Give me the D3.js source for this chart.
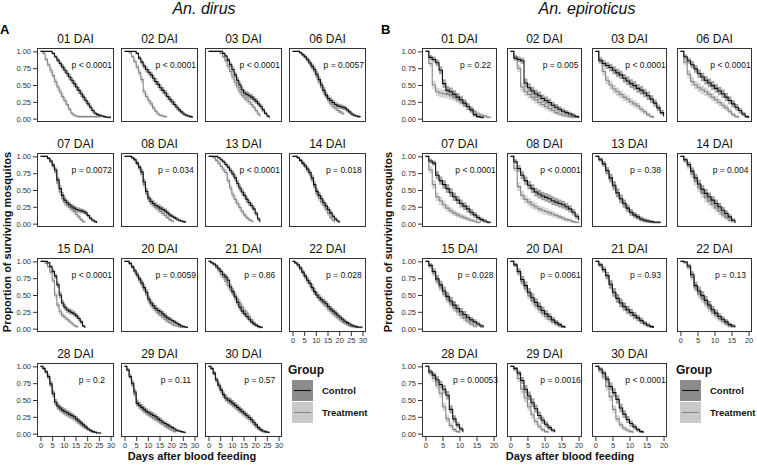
<!DOCTYPE html>
<html><head><meta charset="utf-8">
<script src="https://cdn.jsdelivr.net/npm/d3@7"></script>
<style>body{margin:0;background:#fff}svg{display:block;font-family:"Liberation Sans",Arial,sans-serif}</style>
</head><body><svg id="c" width="757" height="465"></svg>
<script>
// ---------- DATA ----------
const groups = ["Control", "Treatment"];
const yTicks = [0, 0.25, 0.5, 0.75, 1];
const xTicksDirus = [0, 5, 10, 15, 20, 25, 30];
const xTicksEpi = [0, 5, 10, 15, 20];

const dirusPanels = ["01 DAI","02 DAI","03 DAI","06 DAI","07 DAI","08 DAI","13 DAI","14 DAI","15 DAI","20 DAI","21 DAI","22 DAI","28 DAI","29 DAI","30 DAI"];
const dirusPvals = ["p < 0.0001","p < 0.0001","p < 0.0001","p = 0.0057","p = 0.0072","p = 0.034","p < 0.0001","p = 0.018","p < 0.0001","p = 0.0059","p = 0.86","p = 0.028","p = 0.2","p = 0.11","p = 0.57"];
// survival proportion at each day (index = day)
const dirusControl = [
 [1,1,1,1,1,0.97,0.92,0.87,0.82,0.77,0.72,0.67,0.62,0.57,0.52,0.47,0.42,0.37,0.32,0.27,0.22,0.17,0.12,0.08,0.06,0.05,0.04,0.03,0.02,0.02,0.01],
 [1,1,1,1,1,0.97,0.90,0.84,0.78,0.73,0.69,0.65,0.60,0.55,0.51,0.46,0.42,0.38,0.33,0.29,0.25,0.21,0.17,0.13,0.10,0.07,0.05,0.04,0.03,0.01],
 [1,1,1,1,1,1,0.97,0.93,0.87,0.80,0.73,0.65,0.57,0.50,0.43,0.38,0.36,0.34,0.32,0.29,0.26,0.22,0.18,0.13,0.08,0.04,0.01],
 [1,1,1,0.98,0.95,0.92,0.88,0.83,0.78,0.73,0.66,0.58,0.50,0.42,0.35,0.30,0.27,0.24,0.21,0.19,0.18,0.17,0.16,0.13,0.10,0.07,0.05,0.04,0.03,0.02],
 [1,1,1,0.97,0.93,0.87,0.80,0.65,0.52,0.42,0.35,0.31,0.28,0.25,0.23,0.21,0.20,0.19,0.18,0.16,0.12,0.08,0.05,0.03,0.01],
 [1,1,1,0.98,0.95,0.90,0.84,0.77,0.62,0.48,0.38,0.33,0.30,0.27,0.25,0.23,0.21,0.19,0.16,0.13,0.11,0.09,0.07,0.05,0.04,0.03,0.01],
 [1,1,1,1,0.98,0.95,0.92,0.88,0.84,0.79,0.74,0.68,0.60,0.53,0.47,0.42,0.36,0.31,0.27,0.22,0.15,0.07,0.02],
 [1,1,0.98,0.94,0.90,0.86,0.81,0.76,0.68,0.58,0.48,0.42,0.37,0.31,0.26,0.21,0.16,0.11,0.07,0.04,0.01],
 [1,1,1,0.98,0.92,0.85,0.78,0.65,0.50,0.38,0.32,0.28,0.26,0.24,0.22,0.19,0.15,0.10,0.04,0.01],
 [1,1,0.97,0.92,0.86,0.80,0.74,0.68,0.61,0.54,0.44,0.38,0.34,0.30,0.27,0.25,0.22,0.19,0.16,0.14,0.12,0.10,0.08,0.06,0.04,0.03,0.02,0.01],
 [1,0.98,0.96,0.93,0.89,0.85,0.80,0.77,0.72,0.62,0.55,0.47,0.39,0.32,0.26,0.22,0.18,0.14,0.10,0.07,0.05,0.03,0.02,0.01],
 [1,0.98,0.95,0.90,0.84,0.78,0.72,0.67,0.61,0.55,0.50,0.46,0.43,0.40,0.37,0.33,0.29,0.26,0.23,0.20,0.17,0.14,0.11,0.09,0.07,0.05,0.04,0.03,0.02,0.02,0.02],
 [1,0.97,0.92,0.85,0.74,0.60,0.47,0.41,0.38,0.35,0.33,0.31,0.29,0.27,0.25,0.22,0.19,0.16,0.13,0.10,0.07,0.05,0.03,0.02,0.01,0.01,0.01],
 [1,0.95,0.85,0.75,0.62,0.45,0.42,0.39,0.36,0.33,0.31,0.29,0.27,0.25,0.22,0.20,0.17,0.15,0.13,0.11,0.09,0.07,0.05,0.04,0.03,0.02,0.01],
 [1,0.97,0.90,0.80,0.72,0.65,0.58,0.53,0.50,0.48,0.45,0.42,0.39,0.36,0.33,0.30,0.27,0.24,0.21,0.17,0.13,0.09,0.06,0.04,0.03,0.02,0.01]
];
const dirusTreatment = [
 [1,0.97,0.88,0.80,0.72,0.64,0.55,0.47,0.40,0.33,0.27,0.21,0.14,0.08,0.05,0.04,0.03,0.03,0.03,0.03,0.03,0.03,0.03,0.03,0.03,0.03,0.03],
 [1,1,0.98,0.92,0.85,0.77,0.68,0.58,0.40,0.33,0.27,0.22,0.16,0.11,0.07,0.05,0.04,0.03,0.02],
 [1,1,1,1,1,0.97,0.92,0.86,0.78,0.70,0.62,0.54,0.47,0.40,0.35,0.31,0.28,0.25,0.21,0.17,0.12,0.07,0.03],
 [1,1,1,0.98,0.95,0.91,0.87,0.82,0.76,0.70,0.63,0.55,0.47,0.40,0.33,0.27,0.22,0.18,0.15,0.12,0.10,0.08,0.06],
 [1,1,1,0.97,0.92,0.85,0.77,0.60,0.47,0.37,0.31,0.27,0.24,0.21,0.18,0.14,0.10,0.06,0.03,0.02],
 [1,1,1,0.98,0.95,0.89,0.82,0.74,0.58,0.45,0.36,0.30,0.27,0.24,0.21,0.18,0.15,0.12,0.09,0.06,0.04,0.02],
 [1,1,0.98,0.94,0.90,0.85,0.80,0.76,0.64,0.53,0.43,0.36,0.30,0.24,0.18,0.13,0.09,0.06,0.04,0.02],
 [1,1,0.98,0.94,0.89,0.85,0.80,0.74,0.65,0.55,0.45,0.38,0.32,0.27,0.21,0.15,0.09,0.05,0.02],
 [1,1,0.97,0.92,0.84,0.72,0.50,0.35,0.25,0.20,0.17,0.14,0.11,0.08,0.05,0.03,0.02],
 [1,1,0.96,0.91,0.85,0.79,0.72,0.66,0.59,0.51,0.42,0.35,0.31,0.27,0.23,0.20,0.17,0.14,0.11,0.09,0.07,0.05,0.04,0.03,0.02,0.02],
 [1,0.98,0.95,0.91,0.86,0.80,0.76,0.70,0.64,0.58,0.53,0.49,0.44,0.38,0.32,0.27,0.23,0.18,0.13,0.09,0.06,0.04,0.02,0.01],
 [1,0.97,0.93,0.88,0.83,0.78,0.73,0.68,0.62,0.55,0.50,0.45,0.41,0.37,0.33,0.29,0.26,0.22,0.19,0.16,0.13,0.10,0.08,0.06,0.04,0.03,0.02,0.02,0.01],
 [1,0.96,0.91,0.83,0.72,0.58,0.46,0.40,0.36,0.33,0.30,0.28,0.26,0.24,0.22,0.19,0.16,0.13,0.10,0.08,0.06,0.04,0.03,0.02,0.01],
 [1,0.94,0.84,0.72,0.58,0.47,0.41,0.37,0.34,0.31,0.28,0.26,0.23,0.21,0.19,0.16,0.14,0.11,0.09,0.07,0.05,0.03,0.02],
 [1,0.96,0.88,0.79,0.71,0.64,0.57,0.52,0.49,0.46,0.43,0.40,0.37,0.34,0.31,0.28,0.25,0.22,0.18,0.14,0.10,0.07,0.05,0.03,0.02,0.01]
];

const epiPanels = ["01 DAI","02 DAI","03 DAI","06 DAI","07 DAI","08 DAI","13 DAI","14 DAI","15 DAI","20 DAI","21 DAI","22 DAI","28 DAI","29 DAI","30 DAI"];
const epiPvals = ["p = 0.22","p = 0.005","p < 0.0001","p < 0.0001","p < 0.0001","p < 0.0001","p = 0.38","p = 0.004","p = 0.028","p = 0.0061","p = 0.93","p = 0.13","p = 0.00053","p = 0.0016","p < 0.0001"];
const epiControl = [
 [1,0.91,0.88,0.83,0.72,0.52,0.42,0.40,0.36,0.32,0.28,0.23,0.18,0.13,0.06,0.03,0.02,0.01],
 [1,0.90,0.88,0.86,0.53,0.46,0.41,0.37,0.34,0.30,0.27,0.24,0.20,0.17,0.14,0.11,0.09,0.07,0.05,0.03,0.01],
 [1,0.86,0.82,0.79,0.76,0.72,0.68,0.65,0.60,0.56,0.52,0.49,0.45,0.42,0.38,0.34,0.29,0.23,0.16,0.09,0.03],
 [1,0.92,0.86,0.80,0.74,0.67,0.62,0.57,0.53,0.49,0.45,0.41,0.37,0.32,0.27,0.22,0.17,0.12,0.07,0.03,0.01],
 [1,0.93,0.90,0.72,0.64,0.58,0.52,0.46,0.40,0.35,0.30,0.26,0.22,0.17,0.13,0.09,0.06,0.04,0.02,0.01],
 [1,0.92,0.82,0.72,0.64,0.57,0.52,0.47,0.44,0.41,0.39,0.37,0.34,0.32,0.30,0.28,0.25,0.22,0.17,0.11,0.05],
 [1,0.95,0.89,0.79,0.68,0.57,0.46,0.37,0.30,0.23,0.17,0.13,0.10,0.07,0.05,0.04,0.03,0.02,0.02,0.01],
 [1,0.95,0.88,0.78,0.68,0.59,0.51,0.45,0.40,0.35,0.30,0.25,0.20,0.15,0.10,0.05,0.01],
 [1,0.94,0.85,0.74,0.65,0.56,0.48,0.41,0.35,0.30,0.25,0.21,0.17,0.13,0.10,0.07,0.04,0.02],
 [1,0.95,0.85,0.73,0.64,0.54,0.46,0.39,0.33,0.27,0.22,0.18,0.13,0.09,0.06,0.03,0.01],
 [1,0.95,0.88,0.79,0.66,0.54,0.45,0.38,0.33,0.28,0.24,0.20,0.16,0.12,0.08,0.05,0.03,0.01],
 [1,0.99,0.93,0.80,0.64,0.56,0.49,0.42,0.35,0.28,0.23,0.18,0.14,0.10,0.06,0.04,0.02],
 [1,0.92,0.87,0.80,0.73,0.66,0.57,0.36,0.22,0.13,0.07,0.02],
 [1,0.97,0.90,0.79,0.66,0.56,0.46,0.37,0.27,0.20,0.14,0.09,0.05,0.02],
 [1,0.96,0.90,0.81,0.70,0.61,0.51,0.38,0.29,0.21,0.15,0.10,0.06,0.03,0.01]
];
const epiTreatment = [
 [1,0.82,0.50,0.40,0.38,0.37,0.36,0.34,0.32,0.29,0.26,0.22,0.18,0.14,0.10,0.07,0.05,0.04,0.02,0.01],
 [1,0.92,0.75,0.47,0.40,0.36,0.32,0.28,0.24,0.21,0.18,0.15,0.12,0.09,0.07,0.05,0.04,0.03,0.02,0.01],
 [1,0.88,0.70,0.57,0.50,0.44,0.40,0.36,0.32,0.29,0.25,0.22,0.19,0.14,0.10,0.06,0.03,0.01],
 [1,0.84,0.66,0.55,0.50,0.46,0.43,0.40,0.36,0.32,0.28,0.24,0.20,0.16,0.11,0.06,0.03,0.01],
 [1,0.80,0.58,0.40,0.34,0.28,0.23,0.19,0.16,0.13,0.11,0.09,0.07,0.05,0.04,0.02,0.01],
 [1,0.82,0.55,0.42,0.36,0.32,0.28,0.25,0.22,0.20,0.18,0.16,0.14,0.12,0.10,0.08,0.06,0.05,0.03,0.02,0.01],
 [1,0.96,0.88,0.77,0.66,0.55,0.45,0.36,0.29,0.22,0.16,0.12,0.09,0.06,0.04,0.03,0.02,0.01],
 [1,0.93,0.85,0.74,0.63,0.53,0.45,0.38,0.33,0.28,0.23,0.18,0.13,0.09,0.05,0.02],
 [1,0.93,0.83,0.72,0.62,0.53,0.45,0.38,0.31,0.25,0.20,0.15,0.11,0.07,0.04,0.02],
 [1,0.94,0.83,0.70,0.60,0.50,0.42,0.35,0.29,0.23,0.18,0.14,0.10,0.07,0.04,0.02],
 [1,0.94,0.87,0.77,0.65,0.53,0.45,0.38,0.32,0.27,0.23,0.19,0.15,0.11,0.08,0.05,0.03,0.01],
 [1,0.98,0.91,0.77,0.61,0.52,0.45,0.38,0.31,0.25,0.20,0.15,0.11,0.07,0.04,0.02],
 [1,0.90,0.82,0.72,0.60,0.40,0.22,0.12,0.06,0.03,0.01],
 [1,0.95,0.82,0.66,0.53,0.40,0.28,0.18,0.11,0.06,0.03,0.01],
 [1,0.93,0.84,0.70,0.55,0.36,0.22,0.13,0.08,0.05,0.03,0.01]
];

// ---------- DRAWING ----------
const svg = d3.select("#c");
const colors = {line: ["#111111", "#858585"], band: ["#8c8c8c", "#c9c9c9"]};
let clipId = 0;

function drawSpecies(cfg) {
  const {cols, width, rows, height, xMax, panels, pvals, control, treatment, xTicks, ciHalf, pT} = cfg;
  panels.forEach((name, i) => {
    const r = Math.floor(i / 4), c = i % 4;
    const x0 = cols[c], y0 = rows[r];
    const x = d3.scaleLinear().domain([-0.05 * xMax, 1.05 * xMax]).range([x0, x0 + width]);
    const y = d3.scaleLinear().domain([-0.05, 1.05]).range([y0 + height, y0]);
    const g = svg.append("g");
    const id = "clip" + (clipId++);
    g.append("clipPath").attr("id", id).append("rect")
      .attr("x", x0).attr("y", y0).attr("width", width).attr("height", height);
    const plot = g.append("g").attr("clip-path", `url(#${id})`);
    const series = [control[i], treatment[i]];
    const hw = s => ciHalf * 2 * Math.sqrt(Math.max(0, s * (1 - s)));
    const area = d3.area().curve(d3.curveStepAfter)
      .x((d, k) => x(k))
      .y0(d => y(Math.max(0, d - hw(d))))
      .y1(d => y(Math.min(1, d + hw(d))));
    const line = d3.line().curve(d3.curveStepAfter).x((d, k) => x(k)).y(d => y(d));
    [1, 0].forEach(gi => {
      plot.append("path").datum(series[gi]).attr("d", area)
        .attr("fill", colors.band[gi]).attr("fill-opacity", 0.8);
    });
    [1, 0].forEach(gi => {
      plot.append("path").datum(series[gi]).attr("d", line)
        .attr("fill", "none").attr("stroke", colors.line[gi]).attr("stroke-width", 1.1);
    });
    // frame
    g.append("rect").attr("x", x0 + 0.5).attr("y", y0 + 0.5)
      .attr("width", width - 1).attr("height", height - 1)
      .attr("fill", "none").attr("stroke", "#333").attr("stroke-width", 1);
    // strip title
    g.append("text").attr("x", x0 + width / 2).attr("y", y0 - 5)
      .attr("text-anchor", "middle").attr("font-size", 12).attr("fill", "#111").text(name);
    // p-value
    g.append("text").attr("x", x(pT)).attr("y", y(0.8)).attr("dy", "0.35em")
      .attr("text-anchor", "middle").attr("font-size", 8.5).attr("fill", "#111").text(pvals[i]);
    // axes
    if (c === 0) {
      const ax = g.append("g").attr("transform", `translate(${x0},0)`)
        .call(d3.axisLeft(y).tickValues(yTicks).tickFormat(d3.format(".2f")).tickSize(4).tickPadding(2));
      ax.select(".domain").remove();
      ax.selectAll("line").attr("stroke", "#333");
      ax.selectAll("text").attr("font-size", 7.5).attr("fill", "#333").attr("font-family", null);
    }
    if (i + 4 >= panels.length) {
      const ax = g.append("g").attr("transform", `translate(0,${y0 + height})`)
        .call(d3.axisBottom(x).tickValues(xTicks).tickSize(4).tickPadding(2));
      ax.select(".domain").remove();
      ax.selectAll("line").attr("stroke", "#333");
      ax.selectAll("text").attr("font-size", 7.5).attr("fill", "#333").attr("font-family", null);
    }
  });
}

function drawLegend(lx, ly) {
  const g = svg.append("g");
  g.append("text").attr("x", lx).attr("y", ly).attr("font-size", 12).attr("font-weight", "bold")
    .attr("fill", "#111").text("Group");
  groups.forEach((name, k) => {
    const top = ly + 6 + k * 22;
    g.append("rect").attr("x", lx + 4).attr("y", top).attr("width", 21).attr("height", 21)
      .attr("fill", colors.band[k]);
    g.append("line").attr("x1", lx + 6).attr("x2", lx + 23)
      .attr("y1", top + 10.5).attr("y2", top + 10.5)
      .attr("stroke", colors.line[k]).attr("stroke-width", 1.1);
    g.append("text").attr("x", lx + 34).attr("y", top + 10.5).attr("dy", "0.35em")
      .attr("font-size", 9.5).attr("font-weight", "bold").attr("fill", "#111").text(name);
  });
}

const rows = [48, 153, 258, 363];
drawSpecies({cols: [37, 121, 205, 289], width: 77, rows, height: 74, xMax: 30,
  panels: dirusPanels, pvals: dirusPvals, control: dirusControl, treatment: dirusTreatment,
  xTicks: xTicksDirus, ciHalf: 0.05, pT: 22});
drawSpecies({cols: [422, 507, 592, 677], width: 75, rows, height: 74, xMax: 20,
  panels: epiPanels, pvals: epiPvals, control: epiControl, treatment: epiTreatment,
  xTicks: xTicksEpi, ciHalf: 0.065, pT: 14.7});
drawLegend(288, 374);
drawLegend(676, 374);

// titles
svg.append("text").attr("x", 204).attr("y", 14).attr("text-anchor", "middle")
  .attr("font-size", 16).attr("font-style", "italic").attr("fill", "#111").text("An. dirus");
svg.append("text").attr("x", 587).attr("y", 14).attr("text-anchor", "middle")
  .attr("font-size", 16).attr("font-style", "italic").attr("fill", "#111").text("An. epiroticus");
svg.append("text").attr("x", 0).attr("y", 34).attr("font-size", 13).attr("font-weight", "bold").text("A");
svg.append("text").attr("x", 381).attr("y", 34).attr("font-size", 13).attr("font-weight", "bold").text("B");
[[192, 11], [570, 392]].forEach(([cx, yx]) => {
  svg.append("text").attr("x", cx).attr("y", 460).attr("text-anchor", "middle")
    .attr("font-size", 11).attr("font-weight", "bold").attr("fill", "#111").text("Days after blood feeding");
  svg.append("text").attr("transform", `translate(${yx},242) rotate(-90)`).attr("text-anchor", "middle")
    .attr("font-size", 11).attr("font-weight", "bold").attr("fill", "#111").text("Proportion of surviving mosquitos");
});
</script></body></html>
